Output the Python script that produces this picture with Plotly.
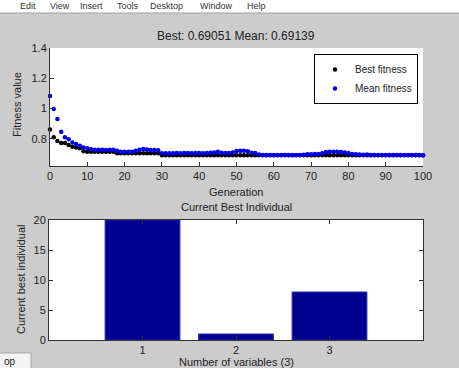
import plotly.graph_objects as go

W, H = 459, 368

generations = list(range(0, 101))

best_fitness = [
    0.861, 0.810, 0.786, 0.772, 0.772, 0.759, 0.747, 0.742, 0.738, 0.718,
    0.715, 0.715, 0.715, 0.715, 0.715, 0.715, 0.715, 0.715, 0.704, 0.704,
    0.704, 0.704, 0.704, 0.704, 0.704, 0.704, 0.704, 0.704, 0.704, 0.704,
    0.6906, 0.6906, 0.6906, 0.6906, 0.6906, 0.6906, 0.6906, 0.6906, 0.6906, 0.6906,
    0.6906, 0.6906, 0.6906, 0.6906, 0.6906, 0.6906, 0.6906, 0.6906, 0.6906, 0.6906,
    0.6905, 0.6905, 0.6905, 0.6905, 0.6905, 0.6905, 0.6905, 0.6905, 0.6905, 0.6905,
    0.6905, 0.6905, 0.6905, 0.6905, 0.6905, 0.6905, 0.6905, 0.6905, 0.6905, 0.6905,
    0.6905, 0.6905, 0.6905, 0.6905, 0.6905, 0.6905, 0.6905, 0.6905, 0.6905, 0.6905,
    0.6905, 0.6905, 0.6905, 0.6905, 0.6905, 0.6905, 0.6905, 0.6905, 0.6905, 0.6905,
    0.6905, 0.6905, 0.6905, 0.6905, 0.6905, 0.6905, 0.6905, 0.6905, 0.6905, 0.6905,
    0.69051,
]

mean_fitness = [
    1.082, 0.996, 0.930, 0.847, 0.810, 0.797, 0.776, 0.765, 0.754, 0.742,
    0.738, 0.731, 0.727, 0.727, 0.727, 0.726, 0.727, 0.728, 0.720, 0.714,
    0.714, 0.714, 0.715, 0.720, 0.727, 0.733, 0.729, 0.725, 0.725, 0.724,
    0.705, 0.704, 0.705, 0.705, 0.706, 0.705, 0.706, 0.706, 0.705, 0.706,
    0.706, 0.705, 0.706, 0.707, 0.709, 0.714, 0.708, 0.706, 0.706, 0.709,
    0.719, 0.721, 0.720, 0.718, 0.707, 0.706, 0.696, 0.692, 0.692, 0.692,
    0.692, 0.692, 0.692, 0.692, 0.692, 0.692, 0.692, 0.693, 0.694, 0.697,
    0.698, 0.699, 0.700, 0.704, 0.712, 0.714, 0.715, 0.714, 0.713, 0.710,
    0.706, 0.700, 0.698, 0.696, 0.694, 0.696, 0.693, 0.692, 0.692, 0.692,
    0.692, 0.692, 0.692, 0.692, 0.692, 0.692, 0.692, 0.692, 0.692, 0.692,
    0.69139,
]

variables = [1, 2, 3]
best_individual = [20, 1, 8]

title_text = "Best: 0.69051 Mean: 0.69139"
menu_items = [("Edit", 18), ("View", 48), ("Insert", 78), ("Tools", 115),
              ("Desktop", 148), ("Window", 198), ("Help", 245)]

FONT = "Liberation Sans, Arial, sans-serif"
GRAY = "#cccccc"
NAVY = "#00008f"


def px(x):
    return x / W


def py(y):
    return 1 - y / H


fig = go.Figure()

fig.add_trace(go.Scatter(
    x=generations, y=best_fitness, mode="markers", name="Best fitness",
    marker=dict(color="black", size=4.5, symbol="circle"),
    xaxis="x", yaxis="y", cliponaxis=False,
))
fig.add_trace(go.Scatter(
    x=generations, y=mean_fitness, mode="markers", name="Mean fitness",
    marker=dict(color="#0000e6", size=4.5, symbol="circle"),
    xaxis="x", yaxis="y", cliponaxis=False,
))
fig.add_trace(go.Bar(
    x=variables, y=best_individual, width=0.8, showlegend=False,
    marker=dict(color=NAVY, line=dict(color="#2a2ab0", width=1)),
    xaxis="x2", yaxis="y2",
))

tickfont = dict(family=FONT, size=11, color="#222")

fig.update_layout(
    width=W, height=H,
    margin=dict(l=0, r=0, t=0, b=0),
    paper_bgcolor=GRAY,
    plot_bgcolor="white",
    font=dict(family=FONT, size=11, color="#222"),
    xaxis=dict(domain=[px(50), px(423)], anchor="y", range=[0, 100],
               tickvals=list(range(0, 101, 10)), ticks="inside", ticklen=4,
               tickcolor="#333", showline=True, linecolor="#333", linewidth=1,
               showgrid=False, zeroline=False, tickfont=tickfont, mirror=False,
               automargin=False),
    yaxis=dict(domain=[py(166), py(48)], anchor="x", range=[0.62, 1.4],
               tickvals=[0.8, 1.0, 1.2, 1.4], ticktext=["0.8", "1", "1.2", "1.4"],
               ticks="inside", ticklen=4, tickcolor="#333", showline=True,
               linecolor="#333", linewidth=1, showgrid=False, zeroline=False,
               tickfont=tickfont, mirror=False, automargin=False),
    xaxis2=dict(domain=[px(49), px(423)], anchor="y2", range=[0, 4],
                tickvals=[1, 2, 3], ticks="inside", ticklen=4, tickcolor="#333",
                showline=True, linecolor="#333", linewidth=1, showgrid=False,
                zeroline=False, tickfont=tickfont, mirror="ticks", automargin=False),
    yaxis2=dict(domain=[py(340), py(220)], anchor="x2", range=[0, 20],
                tickvals=[0, 5, 10, 15, 20], ticks="inside", ticklen=4,
                tickcolor="#333", showline=True, linecolor="#333", linewidth=1,
                showgrid=False, zeroline=False, tickfont=tickfont, mirror="ticks",
                automargin=False),
    legend=dict(x=px(314), y=py(54), xanchor="left", yanchor="top",
                bgcolor="white", bordercolor="black", borderwidth=1,
                font=dict(family=FONT, size=10, color="#222"),
                itemsizing="trace", tracegroupgap=0),
    bargap=0.2,
)

shapes = [
    # menu bar strip
    dict(type="rect", xref="paper", yref="paper", x0=0, x1=1, y0=py(13), y1=1,
         fillcolor="white", line=dict(width=0), layer="below"),
    dict(type="line", xref="paper", yref="paper", x0=0, x1=1, y0=py(13), y1=py(13),
         line=dict(color="#a0a0a0", width=1)),
    # button at bottom-left
    dict(type="rect", xref="paper", yref="paper", x0=px(-2), x1=px(31), y0=py(370), y1=py(353),
         fillcolor="#f4f4f4", line=dict(color="#a8a8a8", width=1)),
]

annotations = []
for word, xpos in menu_items:
    annotations.append(dict(text=word, xref="paper", yref="paper", x=px(xpos), y=py(6),
                            xanchor="left", yanchor="middle", showarrow=False,
                            font=dict(family=FONT, size=9, color="#333")))

label_font = dict(family=FONT, size=11, color="#222")
annotations += [
    dict(text=title_text, xref="paper", yref="paper", x=px(236), y=py(36),
         xanchor="center", yanchor="middle", showarrow=False,
         font=dict(family=FONT, size=12, color="#222")),
    dict(text="Fitness value", xref="paper", yref="paper", x=px(17), y=py(105),
         xanchor="center", yanchor="middle", textangle=-90, showarrow=False, font=label_font),
    dict(text="Generation", xref="paper", yref="paper", x=px(236), y=py(192),
         xanchor="center", yanchor="middle", showarrow=False, font=label_font),
    dict(text="Current Best Individual", xref="paper", yref="paper", x=px(236), y=py(207),
         xanchor="center", yanchor="middle", showarrow=False, font=label_font),
    dict(text="Current best individual", xref="paper", yref="paper", x=px(21), y=py(280),
         xanchor="center", yanchor="middle", textangle=-90, showarrow=False, font=label_font),
    dict(text="Number of variables (3)", xref="paper", yref="paper", x=px(236), y=py(362),
         xanchor="center", yanchor="middle", showarrow=False, font=label_font),
    dict(text="op", xref="paper", yref="paper", x=px(10), y=py(361),
         xanchor="center", yanchor="middle", showarrow=False,
         font=dict(family=FONT, size=10, color="#222")),
]

fig.update_layout(shapes=shapes, annotations=annotations)

fig.write_html(
    "out.html",
    config={"displayModeBar": False},
    post_script="document.body.style.margin='0';document.body.style.overflow='hidden';",
)
